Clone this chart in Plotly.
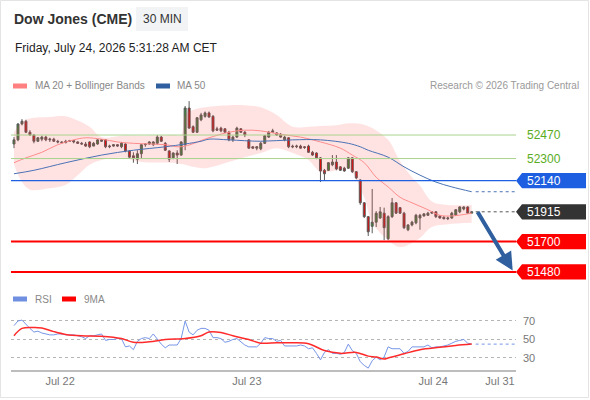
import plotly.graph_objects as go
from plotly.subplots import make_subplots

# 30 min candles, index 0 = first bar on the chart (Jul 21 evening), last = Jul 24 05:00 CET
opens = [52405, 52435, 52550, 52570, 52490, 52470, 52425, 52440, 52455, 52435,
         52440, 52425, 52420, 52415, 52425, 52430, 52420, 52410, 52405, 52420,
         52390, 52405, 52425, 52435, 52385, 52390, 52400, 52385, 52405, 52355,
         52320, 52295, 52335, 52400, 52405, 52400, 52410, 52455, 52410, 52355,
         52305, 52340, 52325, 52400, 52665, 52530, 52490, 52580, 52605, 52630,
         52605, 52515, 52520, 52515, 52490, 52435, 52455, 52515, 52490, 52435,
         52385, 52375, 52370, 52410, 52455, 52490, 52485, 52475, 52435, 52450,
         52390, 52385, 52390, 52385, 52390, 52345, 52340, 52305, 52215, 52215,
         52255, 52275, 52240, 52230, 52230, 52305, 52205, 52145, 51980, 51880,
         51810, 51840, 51870, 51905, 51720, 51880, 51980, 51945, 51905, 51785,
         51820, 51835, 51870, 51885, 51890, 51905, 51915, 51885, 51875, 51865,
         51870, 51890, 51915, 51935, 51950, 51905]
highs = [52455, 52555, 52585, 52580, 52505, 52475, 52455, 52465, 52465, 52450,
         52450, 52435, 52425, 52435, 52435, 52435, 52425, 52420, 52420, 52425,
         52420, 52440, 52440, 52440, 52400, 52405, 52405, 52420, 52410, 52360,
         52345, 52360, 52405, 52410, 52425, 52425, 52470, 52465, 52420, 52360,
         52345, 52360, 52425, 52680, 52715, 52540, 52600, 52630, 52640, 52640,
         52615, 52530, 52530, 52520, 52500, 52465, 52530, 52520, 52500, 52440,
         52390, 52390, 52420, 52470, 52500, 52515, 52490, 52485, 52465, 52455,
         52400, 52400, 52400, 52390, 52400, 52355, 52345, 52310, 52225, 52275,
         52325, 52325, 52245, 52240, 52310, 52310, 52210, 52150, 51985, 51885,
         52080, 51920, 51950, 51945, 51890, 52015, 51985, 51950, 51915, 51825,
         51850, 51900, 51900, 51905, 51915, 51920, 51920, 51890, 51885, 51880,
         51915, 51935, 51955, 51955, 51955, 51920]
lows = [52375, 52425, 52540, 52485, 52465, 52410, 52420, 52425, 52425, 52420,
        52420, 52410, 52410, 52410, 52420, 52410, 52405, 52400, 52385, 52375,
        52390, 52400, 52420, 52375, 52375, 52385, 52385, 52375, 52345, 52305,
        52270, 52260, 52300, 52385, 52400, 52390, 52400, 52420, 52355, 52275,
        52295, 52260, 52320, 52360, 52515, 52485, 52485, 52570, 52595, 52595,
        52490, 52500, 52490, 52485, 52425, 52420, 52450, 52485, 52455, 52370,
        52370, 52360, 52360, 52405, 52450, 52485, 52465, 52450, 52425, 52375,
        52375, 52375, 52370, 52370, 52340, 52320, 52295, 52130, 52140, 52210,
        52245, 52215, 52210, 52205, 52225, 52195, 52150, 51965, 51870, 51740,
        51760, 51805, 51865, 51710, 51710, 51870, 51900, 51900, 51790, 51775,
        51810, 51825, 51785, 51880, 51885, 51900, 51870, 51865, 51860, 51855,
        51865, 51885, 51905, 51925, 51900, 51905]
closes = [52435, 52550, 52570, 52490, 52470, 52425, 52450, 52455, 52435, 52440,
          52425, 52420, 52415, 52425, 52430, 52420, 52410, 52405, 52390, 52385,
          52410, 52435, 52435, 52385, 52390, 52400, 52390, 52410, 52355, 52310,
          52305, 52335, 52400, 52405, 52420, 52420, 52455, 52425, 52360, 52295,
          52340, 52325, 52420, 52665, 52520, 52490, 52595, 52615, 52630, 52600,
          52500, 52505, 52500, 52490, 52435, 52455, 52520, 52490, 52470, 52375,
          52375, 52385, 52410, 52465, 52490, 52500, 52470, 52455, 52455, 52385,
          52385, 52390, 52375, 52380, 52345, 52325, 52305, 52210, 52190, 52270,
          52275, 52225, 52215, 52210, 52305, 52205, 52160, 51980, 51880, 51770,
          51840, 51905, 51915, 51800, 51880, 51980, 51905, 51905, 51800, 51820,
          51840, 51890, 51890, 51900, 51905, 51915, 51880, 51870, 51865, 51870,
          51905, 51930, 51950, 51950, 51905, 51915]

# Bollinger bands (at these bar indexes)
band_idx = [0, 2, 4, 9, 13, 16, 19, 22, 27, 32, 40, 42, 43, 45, 48, 54, 58,
            62, 66, 70, 74, 77, 81, 84, 88, 90, 94, 97, 100, 102, 105, 109, 115]
bb_upper = [52490, 52565, 52590, 52600, 52605, 52575, 52530, 52455, 52465, 52465,
            52470, 52470, 52615, 52650, 52670, 52685, 52685, 52670, 52615, 52530,
            52530, 52535, 52540, 52555, 52545, 52520, 52435, 52280, 52165, 52105,
            51990, 51965, 51965]
bb_lower = [52255, 52130, 52075, 52085, 52110, 52180, 52255, 52290, 52305, 52275,
            52270, 52260, 52255, 52240, 52230, 52275, 52310, 52340, 52375, 52340,
            52290, 52205, 52215, 52230, 52020, 51835, 51710, 51660, 51690, 51725,
            51805, 51825, 51835]

ma20_idx = [0, 3, 7, 11, 15, 18, 22, 26, 30, 38, 42, 49, 54, 58, 62, 67, 72,
            77, 82, 85, 88, 91, 94, 97, 100, 104, 107, 110, 115]
ma20 = [52270, 52305, 52345, 52400, 52435, 52450, 52440, 52420, 52410, 52400,
        52385, 52450, 52490, 52505, 52500, 52475, 52455, 52420, 52375, 52325,
        52270, 52165, 52095, 52020, 51980, 51930, 51890, 51885, 51905]

ma50_idx = [0, 5, 13, 22, 30, 38, 43, 47, 49, 54, 62, 70, 77, 84, 87, 89, 94,
            98, 102, 106, 110, 115]
ma50 = [52190, 52215, 52270, 52325, 52360, 52385, 52405, 52425, 52440, 52435,
        52425, 52435, 52435, 52410, 52385, 52360, 52310, 52240, 52180, 52130,
        52095, 52060]

rsi = [65, 70, 71, 66, 62, 58, 59, 57, 56, 55, 55, 56, 56, 55, 55, 55, 54, 53, 51, 54,
       54, 55, 56, 49, 50, 50, 51, 51, 42, 43, 39, 48, 51, 52, 51, 56, 50, 45, 41, 44,
       44, 44, 51, 70, 58, 55, 60, 62, 62, 60, 52, 52, 51, 47, 48, 50, 51, 47, 44, 42,
       42, 42, 46, 52, 51, 51, 48, 49, 43, 43, 43, 43, 44, 43, 40, 41, 35, 28, 36, 39,
       35, 35, 34, 36, 45, 38, 35, 26, 22, 19, 27, 31, 28, 31, 42, 40, 40, 40, 35, 37,
       42, 42, 42, 42, 44, 41, 42, 42, 43, 44, 46, 48, 49, 50, 46, 45]
rsi_ma_idx = [0, 2, 5, 7, 10, 13, 17, 22, 27, 30, 34, 38, 43, 47, 49, 52, 55, 59,
              62, 66, 70, 74, 78, 82, 86, 89, 91, 93, 94, 98, 102, 107, 111, 115]
rsi_ma = [54, 62, 63, 62.5, 58.5, 55.5, 54, 53.5, 51, 47, 47.5, 50, 51, 54, 58, 57.5,
          54, 50, 46, 46.5, 46.5, 45.5, 38, 35, 36, 32, 31, 29, 30, 34.5, 39, 41.5,
          43.5, 45]

levels_res = [52470, 52300]
level_pivot = 52140
last_price = 51915
levels_sup = [51700, 51480]

tick_pos = [11.6, 58.5, 105.3, 122.1]
tick_txt = ["Jul 22", "Jul 23", "Jul 24", "Jul 31"]

FONT = "Liberation Sans, Arial, sans-serif"


def px(x):
    return (x - 11) / 505


def py(y):
    return 1 - y / 400


fig = make_subplots(rows=2, cols=1, shared_xaxes=True)

fig.add_trace(go.Scatter(x=band_idx, y=bb_upper, mode="lines", line=dict(width=0, shape="spline"),
                         hoverinfo="skip"), row=1, col=1)
fig.add_trace(go.Scatter(x=band_idx, y=bb_lower, mode="lines", line=dict(width=0, shape="spline"),
                         fill="tonexty", fillcolor="rgba(255,70,70,0.15)", hoverinfo="skip"), row=1, col=1)
fig.add_trace(go.Scatter(x=ma20_idx, y=ma20, mode="lines",
                         line=dict(color="#ff8c8c", width=1, shape="spline")), row=1, col=1)
fig.add_trace(go.Scatter(x=ma50_idx, y=ma50, mode="lines",
                         line=dict(color="#4a72b5", width=1, shape="spline")), row=1, col=1)
fig.add_trace(go.Candlestick(
    x=list(range(len(closes))), open=opens, high=highs, low=lows, close=closes,
    increasing=dict(line=dict(color="#5a5a5a", width=1), fillcolor="#2e8b2e"),
    decreasing=dict(line=dict(color="#5a5a5a", width=1), fillcolor="#e60000"),
    whiskerwidth=0), row=1, col=1)

fig.add_trace(go.Scatter(x=list(range(len(rsi))), y=rsi, mode="lines",
                         line=dict(color="#7796e8", width=1)), row=2, col=1)
fig.add_trace(go.Scatter(x=rsi_ma_idx, y=rsi_ma, mode="lines",
                         line=dict(color="#ff2a2a", width=1.5, shape="spline")), row=2, col=1)

last_i = len(closes) - 1
x_end = 126.13
shapes = []
for lv in levels_res:
    shapes.append(dict(type="line", xref="paper", yref="y", x0=0, x1=1, y0=lv, y1=lv,
                       line=dict(color="#a9d48e", width=1)))
shapes.append(dict(type="line", xref="paper", yref="y", x0=0, x1=1, y0=level_pivot, y1=level_pivot,
                   line=dict(color="#1d5fe0", width=1.3)))
for lv in levels_sup:
    shapes.append(dict(type="line", xref="paper", yref="y", x0=0, x1=1, y0=lv, y1=lv,
                       line=dict(color="#ff0000", width=2)))
shapes.append(dict(type="line", xref="x", yref="y", x0=last_i + 1, x1=x_end, y0=last_price, y1=last_price,
                   line=dict(color="#555555", width=1, dash="dot")))
shapes.append(dict(type="line", xref="x", yref="y", x0=last_i + 1, x1=x_end, y0=ma50[-1], y1=ma50[-1],
                   line=dict(color="#4a72b5", width=1, dash="dot")))
shapes.append(dict(type="line", xref="x2", yref="y2", x0=last_i + 1, x1=x_end, y0=rsi[-1], y1=rsi[-1],
                   line=dict(color="#7796e8", width=1, dash="dot")))

annotations = []
for lv in levels_res:
    annotations.append(dict(xref="paper", yref="y", x=px(525), y=lv, text=str(lv), showarrow=False,
                            xanchor="left", font=dict(color="#5aac1e", size=12)))

# price tags on the right
h = 55
tags = [(level_pivot, "#1d5fe0"), (last_price, "#333333"),
        (levels_sup[0], "#ff0000"), (levels_sup[1], "#ff0000")]
for lv, col in tags:
    path = "M %f,%f L %f,%f L %f,%f L %f,%f L %f,%f Z" % (
        px(516), lv, px(522), lv + h, px(586), lv + h, px(586), lv - h, px(522), lv - h)
    shapes.append(dict(type="path", xref="paper", yref="y", path=path,
                       fillcolor=col, line=dict(width=0)))
    annotations.append(dict(xref="paper", yref="y", x=px(525), y=lv, text=str(lv), showarrow=False,
                            xanchor="left", font=dict(color="white", size=12)))

# forecast arrow
annotations.append(dict(xref="x", yref="y", x=125.3, y=51490, ax=-36, ay=-60, text="",
                        showarrow=True, arrowhead=2, arrowsize=0.9, arrowwidth=4,
                        arrowcolor="#2f5f9e"))

# header
shapes.append(dict(type="rect", xref="paper", yref="paper", x0=px(136), x1=px(188), y0=py(31), y1=py(7),
                   fillcolor="#f1f3f5", line=dict(width=0)))
annotations += [
    dict(xref="paper", yref="paper", x=px(12), y=py(19), text="<b>Dow Jones (CME)</b>", showarrow=False,
         xanchor="left", yanchor="middle", font=dict(size=14, color="#333333")),
    dict(xref="paper", yref="paper", x=px(162), y=py(19), text="30 MIN", showarrow=False,
         xanchor="center", yanchor="middle", font=dict(size=12, color="#333333")),
    dict(xref="paper", yref="paper", x=px(13), y=py(48), text="Friday, July 24, 2026 5:31:28 AM CET",
         showarrow=False, xanchor="left", yanchor="middle", font=dict(size=12, color="#222222")),
    dict(xref="paper", yref="paper", x=px(33), y=py(86), text="MA 20 + Bollinger Bands", showarrow=False,
         xanchor="left", yanchor="middle", font=dict(size=10, color="#888888")),
    dict(xref="paper", yref="paper", x=px(175), y=py(86), text="MA 50", showarrow=False,
         xanchor="left", yanchor="middle", font=dict(size=10, color="#888888")),
    dict(xref="paper", yref="paper", x=px(581), y=py(86), text="Research © 2026 Trading Central",
         showarrow=False, xanchor="right", yanchor="middle", font=dict(size=10, color="#999999")),
    dict(xref="paper", yref="paper", x=px(33), y=py(299), text="RSI", showarrow=False,
         xanchor="left", yanchor="middle", font=dict(size=10, color="#888888")),
    dict(xref="paper", yref="paper", x=px(82), y=py(299), text="9MA", showarrow=False,
         xanchor="left", yanchor="middle", font=dict(size=10, color="#888888")),
]
for x0, y0, col in [(13, 86, "#ff8080"), (156, 86, "#2f5f9f"), (13, 299, "#6f8fe0"), (62, 299, "#ff0000")]:
    shapes.append(dict(type="rect", xref="paper", yref="paper", x0=px(x0), x1=px(x0 + 14),
                       y0=py(y0 + 2.5), y1=py(y0 - 2.5), fillcolor=col, line=dict(width=0)))

# outer frame
shapes.append(dict(type="rect", xref="paper", yref="paper", x0=px(0.5), x1=px(588.5), y0=py(397.5), y1=py(0.5),
                   line=dict(color="#e4e4e4", width=1)))

fig.update_layout(
    width=590, height=400, margin=dict(l=11, r=74, t=0, b=0),
    plot_bgcolor="white", paper_bgcolor="white", showlegend=False,
    font=dict(family=FONT), shapes=shapes, annotations=annotations,
    xaxis=dict(range=[-0.754, x_end], visible=False, rangeslider=dict(visible=False)),
    yaxis=dict(domain=[0.30, 0.77], range=[51422, 52781], visible=False),
    xaxis2=dict(range=[-0.754, x_end], showline=True, linecolor="#bdbdbd", linewidth=2,
                tickvals=tick_pos, ticktext=tick_txt, ticks="", showgrid=False, zeroline=False,
                tickfont=dict(size=11, color="#777777")),
    yaxis2=dict(domain=[0.075, 0.25], range=[17, 92.7], side="right", tickvals=[30, 50, 70],
                showgrid=True, gridcolor="#b5b5b5", griddash="dot", gridwidth=1, zeroline=False,
                showline=False, ticklabelstandoff=6, tickfont=dict(size=11, color="#777777")),
)

# the page's default body margin would shift the figure by 8px
fig.write_html("out.html", config={"displayModeBar": False},
               post_script="document.body.style.margin='0';")
